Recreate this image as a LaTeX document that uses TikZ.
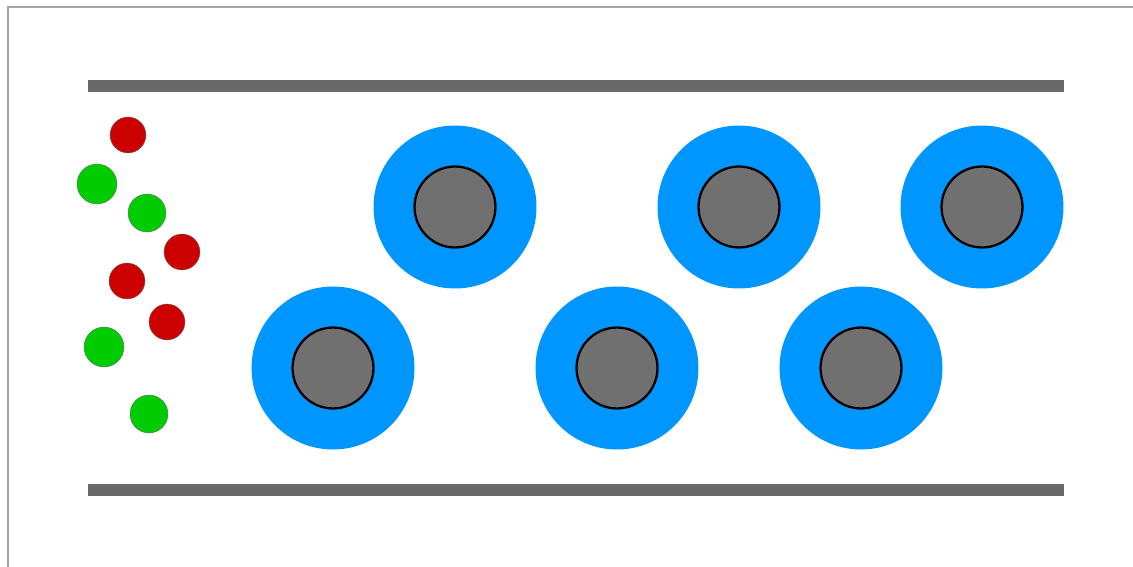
\documentclass[tikz,border=0pt]{standalone}
\begin{document}
\definecolor{fibreblue}{RGB}{0,150,255}
\definecolor{coregray}{RGB}{112,112,112}
\definecolor{wallgray}{RGB}{104,104,104}
\definecolor{framegray}{RGB}{165,165,165}
\definecolor{ionred}{RGB}{204,0,0}
\definecolor{iongreen}{RGB}{0,204,0}
\begin{tikzpicture}[x=0.02cm,y=-0.02cm,
  shell/.style={circle,fill=fibreblue,minimum size=3.26cm,inner sep=0pt},
  core/.style={circle,fill=coregray,draw=black,line width=1.3pt,minimum size=1.62cm,inner sep=0pt},
  ion/.style={circle,draw=black!60,line width=0.2pt,inner sep=0pt}]
\useasboundingbox (0,0) rectangle (1133,567);
\draw[framegray,line width=1.1pt] (8,567)--(8,7)--(1133,7);
\draw[wallgray,line width=6.8pt] (88,86)--(1064,86);
\draw[wallgray,line width=6.8pt] (88,490)--(1064,490);
\foreach \x/\y [count=\i] in {455/207,739/207,982/207,333/368,617/368,861/368}{
  \node[shell] (s\i) at (\x,\y) {};
  \node[core] (c\i) at (s\i) {};
}
\foreach \x/\y/\c/\r [count=\i] in {128/135/ionred/18,97/184/iongreen/20,147/213/iongreen/19,182/252/ionred/18,127/281/ionred/18,167/322/ionred/18,104/347/iongreen/20,149/414/iongreen/19}{
  \node[ion,fill=\c,minimum size=\r*0.04cm] (p\i) at (\x,\y) {};
}
\end{tikzpicture}
\end{document}
